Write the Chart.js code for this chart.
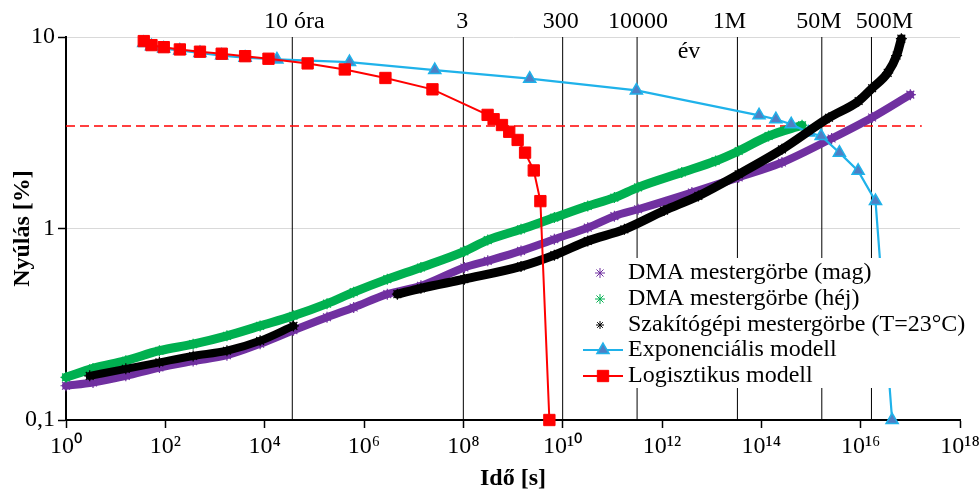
<!DOCTYPE html>
<html>
<head>
<meta charset="utf-8">
<script src="https://cdn.jsdelivr.net/npm/chart.js@4.4.1/dist/chart.umd.min.js"></script>
<style>
  html, body { margin: 0; padding: 0; background: #fff; }
  canvas { display: block; }
</style>
</head>
<body>
<canvas id="chart" width="979" height="495"></canvas>
<script>
// axis ticks
const xTicks = [1e0, 1e2, 1e4, 1e6, 1e8, 1e10, 1e12, 1e14, 1e16, 1e18];
const xTickLabels = ['10⁰', '10²', '10⁴', '10⁶', '10⁸', '10¹⁰', '10¹²', '10¹⁴', '10¹⁶', '10¹⁸'];
const yTicks = [0.1, 1, 10];
const yTickLabels = ['0,1', '1', '10'];

// time marks on top (s)
const periodTimes = [3.6e4, 1e8, 1e10, 3.15e11, 3.3e13, 1.65e15, 1.65e16];
const periodLabels = ['10 óra', '3', '300', '10000', '1M', '50M', '500M'];
const yearLabel = 'év';
const limitStrain = 3.43;
const limitTime = [1, 1.7e17];

// DMA mestergörbe (mag)
const magTime = [1, 3.5, 16, 76, 363, 1740, 8100, 3.8e4, 1.8e5, 6.2e5, 2.95e6, 1.4e7, 1.05e8, 3.1e8,
  1.45e9, 6.8e9, 3.2e10, 1.1e11, 3.3e11, 4.0e12, 3.5e13, 2.6e14, 2.6e15, 1.7e16, 1.0e17];
const magStrain = [0.151, 0.157, 0.170, 0.188, 0.203, 0.218, 0.250, 0.294, 0.344, 0.387, 0.454, 0.502, 0.626, 0.678,
  0.764, 0.879, 1.01, 1.16, 1.26, 1.54, 1.85, 2.21, 2.95, 3.8, 5.0];

// DMA mestergörbe (héj)
const hejTime = [1, 3.5, 16, 76, 363, 1740, 8100, 3.8e4, 1.8e5, 6.2e5, 2.95e6, 1.4e7, 1.05e8, 3.1e8,
  1.45e9, 6.8e9, 3.2e10, 1.1e11, 3.3e11, 2.5e12, 1.2e13, 3.5e13, 1.4e14, 6.6e14];
const hejStrain = [0.167, 0.186, 0.204, 0.230, 0.249, 0.275, 0.310, 0.350, 0.405, 0.465, 0.544, 0.626, 0.76, 0.87,
  0.99, 1.14, 1.31, 1.45, 1.64, 1.96, 2.25, 2.54, 3.04, 3.46];

// Szakítógépi mestergörbe, two pieces
const szakTime1 = [3.0, 16, 76, 363, 1740, 8100, 3.8e4];
const szakStrain1 = [0.170, 0.185, 0.200, 0.216, 0.230, 0.259, 0.310];
const szakTime2 = [4.7e6, 1.4e7, 1.05e8, 1.45e9, 6.8e9, 3.2e10, 1.75e11, 1.1e12, 5.4e12, 3.5e13, 2.6e14,
  2.3e15, 9.1e15, 1.7e16, 3.5e16, 5.3e16, 6.6e16];
const szakStrain2 = [0.454, 0.487, 0.544, 0.634, 0.726, 0.861, 0.99, 1.24, 1.48, 1.92, 2.59,
  3.79, 4.63, 5.4, 6.5, 8.0, 9.8];

// Exponenciális modell
const expTime = [36.8, 52.6, 93, 196, 498, 1365, 4036, 17630, 5.1e5, 2.66e7, 2.17e9, 3.05e11,
  9.0e13, 1.96e14, 4.0e14, 9.0e14, 1.6e15, 3.73e15, 8.9e15, 1.99e16, 4.3e16];
const expStrain = [9.3, 8.95, 8.7, 8.5, 8.25, 8.0, 7.8, 7.64, 7.40, 6.72, 6.06, 5.26,
  3.90, 3.72, 3.50, 3.17, 3.04, 2.49, 2.0, 1.39, 0.1];

// Logisztikus modell
const logTime = [36.8, 52.6, 93, 196, 498, 1365, 4036, 11940, 73280, 4.1e5, 2.7e6, 2.39e7,
  3.08e8, 4.07e8, 6.0e8, 8.4e8, 1.24e9, 1.75e9, 2.62e9, 3.56e9, 5.4e9];
const logStrain = [9.52, 9.07, 8.85, 8.61, 8.38, 8.18, 7.94, 7.70, 7.28, 6.77, 6.11, 5.33,
  3.92, 3.72, 3.47, 3.20, 2.90, 2.49, 2.01, 1.39, 0.1];

const legendLabels = ['DMA mestergörbe (mag)', 'DMA mestergörbe (héj)', 'Szakítógépi mestergörbe (T=23°C)',
  'Exponenciális modell', 'Logisztikus modell'];

const FONT = "'Liberation Serif', 'Times New Roman', serif";
const PURPLE = '#7030A0', GREEN = '#00B050', BLUE = '#1FB2EA', STEEL = '#4F7FC4', RED = '#FF0000';

const pts = (xs, ys) => xs.map((v, i) => ({x: v, y: ys[i]}));

function band(data, color, width, order) {
    return {
        data: data, showLine: true, borderColor: color, borderWidth: width,
        borderCapStyle: 'round', borderJoinStyle: 'round', cubicInterpolationMode: 'monotone',
        pointStyle: 'star', pointRadius: 5.5, pointBorderWidth: 1.2,
        pointBorderColor: color, pointBackgroundColor: color,
        clip: false, order: order
    };
}

const datasets = [
    {
        data: pts(logTime, logStrain), showLine: true, borderColor: RED, borderWidth: 2,
        pointStyle: 'rect', pointRadius: 8, pointBackgroundColor: RED, pointBorderColor: RED,
        pointBorderWidth: 1, clip: false, order: 0
    },
    band(pts(szakTime1, szakStrain1), '#000', 8, 1),
    band(pts(szakTime2, szakStrain2), '#000', 9, 1),
    {
        data: pts(expTime, expStrain), showLine: true, borderColor: BLUE, borderWidth: 2.2,
        pointStyle: 'triangle', pointRadius: 7, pointBackgroundColor: STEEL, pointBorderColor: BLUE,
        pointBorderWidth: 1.5, clip: false, order: 2
    },
    band(pts(hejTime, hejStrain), GREEN, 9, 3),
    band(pts(magTime, magStrain), PURPLE, 8, 4),
    {
        data: pts(limitTime, [limitStrain, limitStrain]), showLine: true, borderColor: RED,
        borderWidth: 1.3, borderDash: [9, 5], pointRadius: 0, order: 5
    }
].concat(periodTimes.map(t => ({
    data: [{x: t, y: 0.1}, {x: t, y: 10}], showLine: true, borderColor: '#000',
    borderWidth: 1, pointRadius: 0, order: 6
})));

const overlay = {
    id: 'overlay',
    afterDraw(chart) {
        const ctx = chart.ctx;
        const x = chart.scales.x;
        ctx.save();
        ctx.font = '24px ' + FONT;
        ctx.fillStyle = '#000';
        ctx.textAlign = 'center';
        ctx.textBaseline = 'middle';
        const shift = [2, -1, -2, 1, -8, -3, 13];
        periodTimes.forEach((t, i) => ctx.fillText(periodLabels[i], x.getPixelForValue(t) + shift[i], 22));
        ctx.fillText(yearLabel, x.getPixelForValue(3.5e12), 52);

        // legend
        ctx.fillStyle = '#fff';
        ctx.fillRect(583, 258, 396, 130);
        const rows = [273, 299, 325, 350, 376];
        const draw = Chart.helpers && Chart.helpers.drawPoint;
        const marks = [
            {style: 'star', r: 5, color: PURPLE, fill: PURPLE, bw: 1},
            {style: 'star', r: 5, color: GREEN, fill: GREEN, bw: 1},
            {style: 'star', r: 4, color: '#000', fill: '#000', bw: 1},
            {style: 'triangle', r: 7, color: BLUE, fill: STEEL, bw: 1.5, line: true},
            {style: 'rect', r: 8, color: RED, fill: RED, bw: 1, line: true}
        ];
        marks.forEach((m, i) => {
            const y = rows[i];
            if (m.line) {
                ctx.strokeStyle = m.color;
                ctx.lineWidth = 2;
                ctx.beginPath();
                ctx.moveTo(583, y);
                ctx.lineTo(623, y);
                ctx.stroke();
            }
            ctx.strokeStyle = m.color;
            ctx.fillStyle = m.fill;
            ctx.lineWidth = m.bw;
            if (draw) draw(ctx, {pointStyle: m.style, radius: m.r, rotation: 0, borderWidth: m.bw}, m.line ? 603 : 600, y);
            ctx.fillStyle = '#000';
            ctx.textAlign = 'left';
            ctx.fillText(legendLabels[i], 628, y);
        });
        ctx.restore();
    }
};

new Chart(document.getElementById('chart'), {
    type: 'scatter',
    data: {datasets: datasets},
    options: {
        responsive: false,
        animation: false,
        devicePixelRatio: 1,
        layout: {padding: {top: 37, right: 19, bottom: 0, left: 0}},
        plugins: {legend: {display: false}, tooltip: {enabled: false}},
        scales: {
            x: {
                type: 'logarithmic', min: 1, max: 1e18,
                afterBuildTicks: s => { s.ticks = xTicks.map(v => ({value: v})); },
                afterFit: s => { s.height = 75; s.paddingLeft = 0; s.paddingRight = 0; },
                ticks: {
                    callback: (v, i) => xTickLabels[i], autoSkip: false, maxRotation: 0,
                    color: '#000', padding: 4, font: {family: FONT, size: 24}
                },
                grid: {drawOnChartArea: false, drawTicks: true, tickLength: 8, tickColor: '#000', tickWidth: 1.5},
                border: {color: '#000', width: 2},
                title: {
                    display: true, text: 'Idő [s]', color: '#000', padding: {top: 0, bottom: 2},
                    font: {family: FONT, size: 24, weight: 'bold'}
                }
            },
            y: {
                type: 'logarithmic', min: 0.1, max: 10,
                afterBuildTicks: s => { s.ticks = yTicks.map(v => ({value: v})); },
                afterFit: s => { s.width = 66; s.paddingTop = 0; s.paddingBottom = 0; },
                ticks: {
                    callback: (v, i) => yTickLabels[i], color: '#000', padding: 3,
                    font: {family: FONT, size: 24}
                },
                grid: {color: '#d9d9d9', lineWidth: 1, drawTicks: true, tickLength: 8, tickColor: '#000', tickWidth: 1.5},
                border: {color: '#000', width: 2},
                title: {
                    display: true, text: 'Nyúlás [%]', color: '#000', padding: {top: 8, bottom: 0},
                    font: {family: FONT, size: 24, weight: 'bold'}
                }
            }
        }
    },
    plugins: [overlay]
});
</script>
</body>
</html>
